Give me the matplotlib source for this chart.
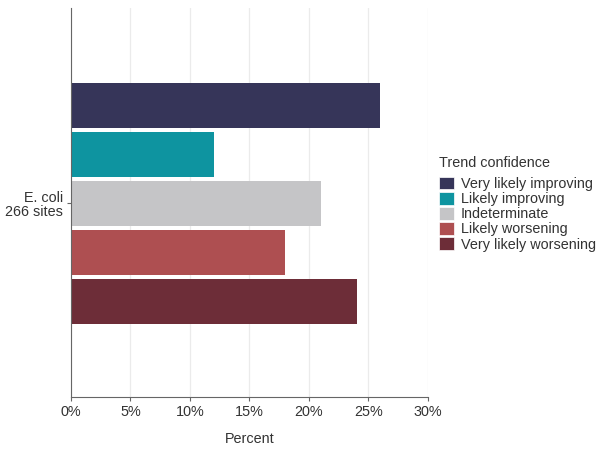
import matplotlib
matplotlib.use("Agg")
import matplotlib.pyplot as plt
from matplotlib.patches import Patch

categories = ["Very likely improving", "Likely improving", "Indeterminate",
              "Likely worsening", "Very likely worsening"]
percents = [26, 12, 21, 18, 24]
colors = ["#363559", "#0E94A0", "#C5C5C7", "#AE4F51", "#6D2D38"]
group_label = "E. coli\n266 sites"
xticks = [0, 5, 10, 15, 20, 25, 30]

plt.rcParams['font.family'] = ['Liberation Sans', 'DejaVu Sans']
fs = 10.4

fig = plt.figure(figsize=(6.04, 4.5), dpi=100)
ax = fig.add_axes([0.1175, 0.1178, 0.5911, 0.8644])

ypos = [4, 3, 2, 1, 0]
ax.barh(ypos, percents, height=0.92, color=colors, zorder=3)

ax.set_xlim(0, 30)
ax.set_ylim(-1.95, 5.99)
ax.set_xticks(xticks)
ax.set_xticklabels([f"{t}%" for t in xticks], fontsize=fs, color="#333333")
ax.set_yticks([2])
ax.set_yticklabels([group_label], fontsize=fs, color="#333333", ha="right",
                   linespacing=1.0)
ax.grid(axis="x", color="#EBEBEB", linewidth=0.9, zorder=0)
ax.set_xlabel("Percent", fontsize=fs, color="#333333", labelpad=9)

for s in ["top", "right"]:
    ax.spines[s].set_visible(False)
for s in ["left", "bottom"]:
    ax.spines[s].set_color("#666666")
    ax.spines[s].set_linewidth(0.8)
    ax.spines[s].set_zorder(4)
ax.tick_params(axis="both", color="#666666", length=3, width=0.8, pad=3)

handles = [Patch(facecolor=c, edgecolor="white", linewidth=0.5) for c in colors]
leg = fig.legend(handles, categories, title="Trend confidence", loc="upper left",
                 bbox_to_anchor=(0.7174, 0.667), frameon=False, fontsize=fs,
                 title_fontsize=fs, handlelength=1.0, handleheight=1.0,
                 labelspacing=0.05, handletextpad=0.5, borderaxespad=0)
leg._legend_box.align = "left"
leg._legend_box.sep = 5
for t in leg.get_texts():
    t.set_color("#333333")
leg.get_title().set_color("#333333")

fig.savefig("out.png", dpi=100)
